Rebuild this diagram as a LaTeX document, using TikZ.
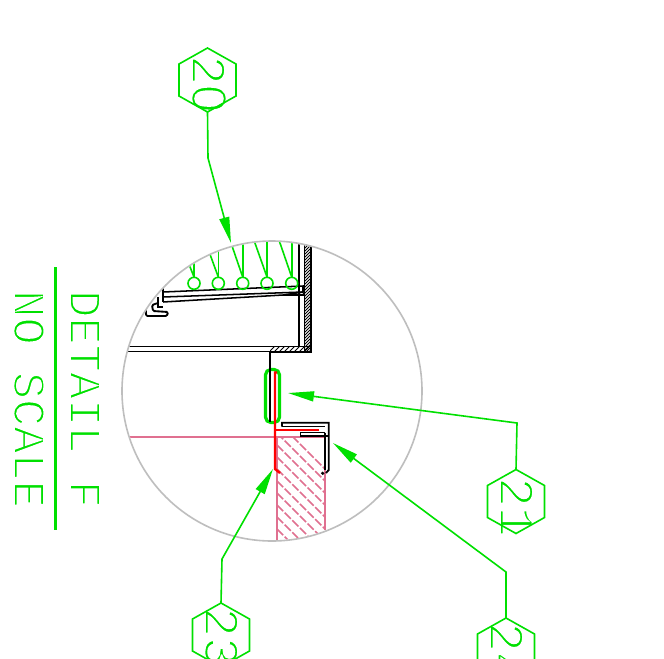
\documentclass[tikz,border=0pt]{standalone}
\usepackage{fontspec}
\usepackage{tikz}
\usetikzlibrary{arrows.meta}
\setmonofont{Liberation Mono}
\newfontfamily\plainfig{Liberation Sans}
\definecolor{cadgreen}{RGB}{0,224,0}
\definecolor{cadpink}{RGB}{224,112,144}
\definecolor{cadgray}{RGB}{190,190,190}
\definecolor{cadred}{RGB}{255,0,0}
% thin stroke look for the lettering
\newcommand{\thintext}[1]{\special{pdf:code 2 Tr 1 1 1 RG 1.25 w}#1\special{pdf:code 0 Tr}}
\tikzset{
  note/.style={text=cadgreen, font=\ttfamily\fontsize{34}{34}\selectfont, rotate=-90, anchor=base west, inner sep=0pt},
  tag/.style={text=cadgreen, font=\ttfamily\fontsize{37}{37}\selectfont, rotate=-90, anchor=base west, inner sep=0pt},
  leader/.style={cadgreen, line width=1.2pt},
  pointer/.style={leader, -{Triangle[length=19.5pt, width=7.5pt]}},
  balloon/.style={cadgreen, line width=1.2pt, line join=miter},
  part/.style={black, line width=1.15pt},
  cut/.style={black, line width=0.7pt}
}
\newcommand{\hexagon}[2]{%
  \draw[balloon] (#1,#2-32) -- (#1+28.5,#2-16) -- (#1+28.5,#2+16) -- (#1,#2+32) -- (#1-28.5,#2+16) -- (#1-28.5,#2-16) -- cycle;}
\begin{document}
\begin{tikzpicture}[x=0.75pt, y=-0.75pt]
\useasboundingbox (0,0) rectangle (664,658);
\fill[white] (0,0) rectangle (664,658);
\node[note] (detail) at (70,290) {\thintext{DETAIL F}};
\node[note] (scale) at (14,290) {\thintext{NO SCALE}};
\draw[cadgreen, line width=2.2pt] (55.5,267) -- (55.5,530);
% detail circle
\draw[cadgray, line width=1.2pt] (272,391) circle (150);
\begin{scope}
\clip (272,391) circle (149);
% hatched wall
\begin{scope}
\clip (277,437) rectangle (325,560);
\foreach \i in {0,12,...,156}
  \draw[cadpink, line width=1.2pt, dash pattern=on 6.5pt off 1.6pt] (277,{421+\i}) -- (337,{481+\i});
\end{scope}
\draw[cadpink, line width=1.2pt] (128,436.7) -- (325,436.7) -- (325,530);
\draw[cadpink, line width=1.2pt] (277,437) -- (277,545);
% upper frame
\begin{scope}
\clip (304.5,240) rectangle (311,352);
\foreach \i in {0,3,...,117}
  \draw[cut] (304,{246+\i}) -- (312,{238+\i});
\end{scope}
\begin{scope}
\clip (270,346.5) rectangle (311,352);
\foreach \i in {0,5,...,45}
  \draw[cut] ({268+\i},353) -- ({276+\i},345);
\end{scope}
\draw[part] (299,240) -- (299,347);
\draw[part] (304.5,240) -- (304.5,352);
\draw[part] (311,240) -- (311,352) -- (270,352);
\draw[part] (120,346.5) -- (311,346.5);
\draw[part] (120,351.5) -- (270,351.5);
% shelf
\begin{scope}
\clip (283,295) -- (303,292) -- (305,295) -- cycle;
\foreach \i in {0,4,...,24}
  \draw[cut] ({280+\i},297) -- ({286+\i},291);
\end{scope}
\draw[part] (163,287) -- (163,302);
\draw[part] (163,292) -- (303,286) -- (303,292) -- (163,297);
\draw[part] (163,302) -- (283,295) -- (305,295);
\draw[part] (283,295) -- (303,292);
\draw[part] (158,297) -- (158,307) -- (163,307);
\draw[part, line width=1.4pt, rounded corners=1pt] (146,309) -- (146,316) -- (167,316) -- (168,312) -- (153,311) -- (152,305) -- (158,303);
% insulation
\foreach \cx/\top/\dx/\dy in {194/263/189.3/265, 218.3/250.7/210/254.3, 242.7/244/231/243, 267/241/254.7/242.3, 291.7/242.3/279.3/241} {
  \draw[leader] (\cx,283.3) circle (6);
  \draw[leader] (\cx,277) -- (\cx,\top);
  \draw[leader] (\cx,277) -- (\dx,\dy);
}
\end{scope}
% gasket
\draw[cadgreen, line width=2.4pt, rounded corners=4pt] (265.5,369.5) rectangle (279.5,422.5);
\draw[part] (270,352) -- (270,422);
% trim
\draw[cadred, line width=1.8pt] (277,372.5) -- (275,372.5) -- (275,469) -- (280,473);
\draw[cadred, line width=1.7pt] (276,430) -- (319,430);
% channel
\draw[part, line width=1.4pt] (282,426.5) -- (282,422.7) -- (328.7,422.7) -- (328.7,470) -- (326,473);
\draw[part, line width=1.4pt] (282,426.5) -- (325,426.5);
\draw[part, line width=1.4pt] (325,432.5) -- (325,470);
\draw[part, line width=1.4pt] (325,432.5) -- (300.5,432.5) -- (300.5,436) -- (328.7,436);
\fill[black] (322.7,473.3) circle (1.8);
\fill[black] (305,421.5) rectangle (307,423);
% balloons
\node[tag] (t20) at (192,55) {\thintext{2{\plainfig 0}}};
\hexagon{207.5}{80}
\coordinate (b20) at (207.5,112);
\coordinate (k20) at (208,158);
\coordinate (h20) at (231,243);
\draw[pointer] (b20) -- (k20) -- (h20);
\node[tag] (t21) at (500,477) {\thintext{21}};
\hexagon{516}{501.5}
\coordinate (b21) at (516,469.5);
\coordinate (k21) at (517,423);
\coordinate (h21) at (288,393);
\draw[pointer] (b21) -- (k21) -- (h21);
\node[tag] (t23) at (205,607) {\thintext{23}};
\hexagon{221}{635}
\node[tag] (t24) at (490,622) {\thintext{24}};
\hexagon{506}{650}
\coordinate (b23) at (221,603);
\coordinate (k23) at (222,559);
\coordinate (h23) at (273,469);
\draw[pointer] (b23) -- (k23) -- (h23);
\coordinate (b24) at (506,618);
\coordinate (k24) at (506,572);
\coordinate (h24) at (333,443);
\draw[pointer] (b24) -- (k24) -- (h24);
\end{tikzpicture}
\end{document}
